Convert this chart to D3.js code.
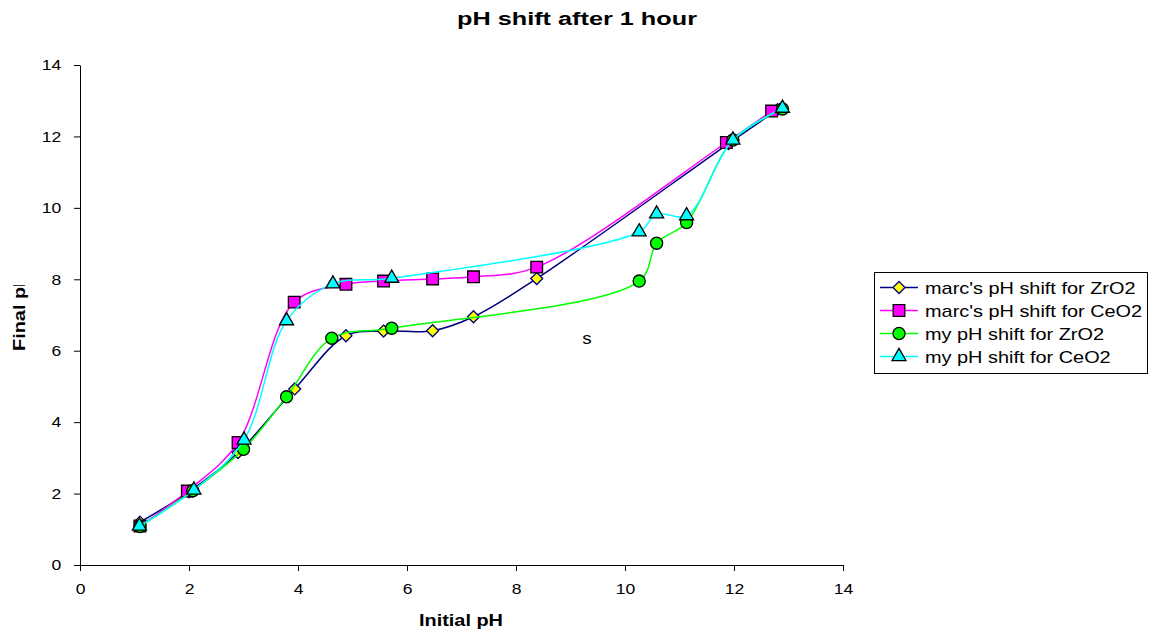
<!DOCTYPE html>
<html>
<head>
<meta charset="utf-8">
<script src="https://cdn.jsdelivr.net/npm/d3@7"></script>
<style>
  body { margin: 0; background: #fff; }
  text { font-family: "Liberation Sans", Arial, sans-serif; }
</style>
</head>
<body>
<div id="main"></div>
<script>
// data
const seriesNames = ["marc's pH shift for ZrO2", "marc's pH shift for CeO2", "my pH shift for ZrO2", "my pH shift for CeO2"];

const marcZrX = [1.1, 2.0, 2.9, 3.94, 4.88, 5.57, 6.47, 7.22, 8.38, 11.9, 12.8];
const marcZrY = [1.2, 2.05, 3.15, 4.93, 6.42, 6.55, 6.56, 6.95, 8.02, 11.8, 12.75];

const marcCeX = [1.1, 1.97, 2.9, 3.93, 4.88, 5.57, 6.47, 7.22, 8.38, 11.86, 12.69];
const marcCeY = [1.09, 2.07, 3.43, 7.36, 7.86, 7.95, 8.01, 8.07, 8.34, 11.83, 12.71];

const myZrX = [1.1, 2.07, 3.0, 3.79, 4.62, 5.72, 10.26, 10.58, 11.13, 11.98, 12.89];
const myZrY = [1.08, 2.08, 3.24, 4.71, 6.35, 6.63, 7.95, 9.01, 9.59, 11.9, 12.77];

const myCeX = [1.09, 2.09, 3.01, 3.79, 4.64, 5.72, 10.26, 10.58, 11.13, 11.98, 12.89];
const myCeY = [1.09, 2.1, 3.5, 6.84, 7.87, 8.03, 9.33, 9.83, 9.78, 11.9, 12.79];

const xTicks = [0, 2, 4, 6, 8, 10, 12, 14];
const yTicks = [0, 2, 4, 6, 8, 10, 12, 14];

const config = {width: 1156, height: 634, left: 80, right: 843, top: 65, bottom: 565};
const stretch = 1.17; // the original text is drawn a bit wide

const svg = d3.select("#main").append("svg")
    .attr("width", config.width)
    .attr("height", config.height);

const xScale = d3.scaleLinear().domain([0, 14]).range([config.left, config.right]);
const yScale = d3.scaleLinear().domain([0, 14]).range([config.bottom, config.top]);

// axes
const xAxis = svg.append("g")
    .attr("transform", `translate(0,${config.bottom})`)
    .call(d3.axisBottom(xScale).tickValues(xTicks).tickSize(6).tickPadding(12).tickSizeOuter(0));
const yAxis = svg.append("g")
    .attr("transform", `translate(${config.left},0)`)
    .call(d3.axisLeft(yScale).tickValues(yTicks).tickSize(6).tickPadding(10).tickSizeOuter(0));

[xAxis, yAxis].forEach(a => {
  a.select(".domain").attr("stroke", "#000").attr("stroke-width", 1);
  a.selectAll(".tick line").attr("stroke", "#000");
  a.selectAll(".tick text")
      .attr("font-family", "Liberation Sans, Arial, sans-serif")
      .attr("font-size", 15).attr("fill", "#000")
      .attr("transform", `scale(${stretch},1)`);
});

// titles
svg.append("text")
    .attr("transform", `translate(577,25) scale(1.33,1)`)
    .attr("text-anchor", "middle")
    .attr("font-size", 19).attr("font-weight", "bold")
    .text("pH shift after 1 hour");

svg.append("text")
    .attr("transform", `translate(461,626) scale(${stretch},1)`)
    .attr("text-anchor", "middle")
    .attr("font-size", 17).attr("font-weight", "bold")
    .text("Initial pH");

// y label is cut off in the original
svg.append("clipPath").attr("id", "ylabClip")
  .append("rect").attr("x", 0).attr("y", 285).attr("width", 40).attr("height", 90);
svg.append("g")
    .attr("clip-path", "url(#ylabClip)")
  .append("text")
    .attr("transform", `translate(25,351) rotate(-90) scale(${stretch},1)`)
    .attr("text-anchor", "start")
    .attr("font-size", 17).attr("font-weight", "bold")
    .text("Final pH");

// stray label inside the plot
svg.append("text")
    .attr("transform", `translate(${xScale(9.3)},${yScale(6.2)}) scale(${stretch},1)`)
    .attr("text-anchor", "middle")
    .attr("font-size", 16)
    .text("s");

const diamond = {
  draw(ctx, size) {
    const r = Math.sqrt(size / 2);
    ctx.moveTo(0, -r); ctx.lineTo(r, 0); ctx.lineTo(0, r); ctx.lineTo(-r, 0); ctx.closePath();
  }
};

const series = [
  {name: seriesNames[0], xs: marcZrX, ys: marcZrY, line: "#000080", fill: "#FFFF00", stroke: "#000080", sym: diamond, size: 72},
  {name: seriesNames[1], xs: marcCeX, ys: marcCeY, line: "#FF00FF", fill: "#FF00FF", stroke: "#000", sym: d3.symbolSquare, size: 135},
  {name: seriesNames[2], xs: myZrX, ys: myZrY, line: "#00FF00", fill: "#00FF00", stroke: "#000", sym: d3.symbolCircle, size: 115},
  {name: seriesNames[3], xs: myCeX, ys: myCeY, line: "#00FFFF", fill: "#00FFFF", stroke: "#000", sym: d3.symbolTriangle, size: 85}
];

const line = d3.line()
    .x(d => xScale(d[0]))
    .y(d => yScale(d[1]))
    .curve(d3.curveCatmullRom.alpha(0.5));

series.forEach(s => {
  const pts = s.xs.map((x, i) => [x, s.ys[i]]);
  const g = svg.append("g");
  g.append("path")
      .datum(pts)
      .attr("d", line)
      .attr("fill", "none")
      .attr("stroke", s.line)
      .attr("stroke-width", 1.5);
  g.selectAll("path.mark")
    .data(pts)
    .enter()
    .append("path")
      .attr("class", "mark")
      .attr("d", d3.symbol().type(s.sym).size(s.size))
      .attr("transform", d => `translate(${xScale(d[0])},${yScale(d[1])})`)
      .attr("fill", s.fill)
      .attr("stroke", s.stroke)
      .attr("stroke-width", 1.3);
});

// legend
const legend = svg.append("g");
legend.append("rect")
    .attr("x", 874.5).attr("y", 272.5)
    .attr("width", 273).attr("height", 101)
    .attr("fill", "#fff").attr("stroke", "#000");

const rowY = [287.5, 310.5, 333.5, 356.5];
series.forEach((s, i) => {
  const row = legend.append("g").attr("transform", `translate(0,${rowY[i]})`);
  row.append("line")
      .attr("x1", 880).attr("x2", 918)
      .attr("stroke", s.line).attr("stroke-width", 1.5);
  row.append("path")
      .attr("d", d3.symbol().type(s.sym).size(s.size))
      .attr("transform", "translate(899,0)")
      .attr("fill", s.fill)
      .attr("stroke", s.stroke)
      .attr("stroke-width", 1.3);
  row.append("text")
      .attr("transform", `translate(925,6) scale(${stretch},1)`)
      .attr("font-size", 17)
      .text(s.name);
});
</script>
</body>
</html>
